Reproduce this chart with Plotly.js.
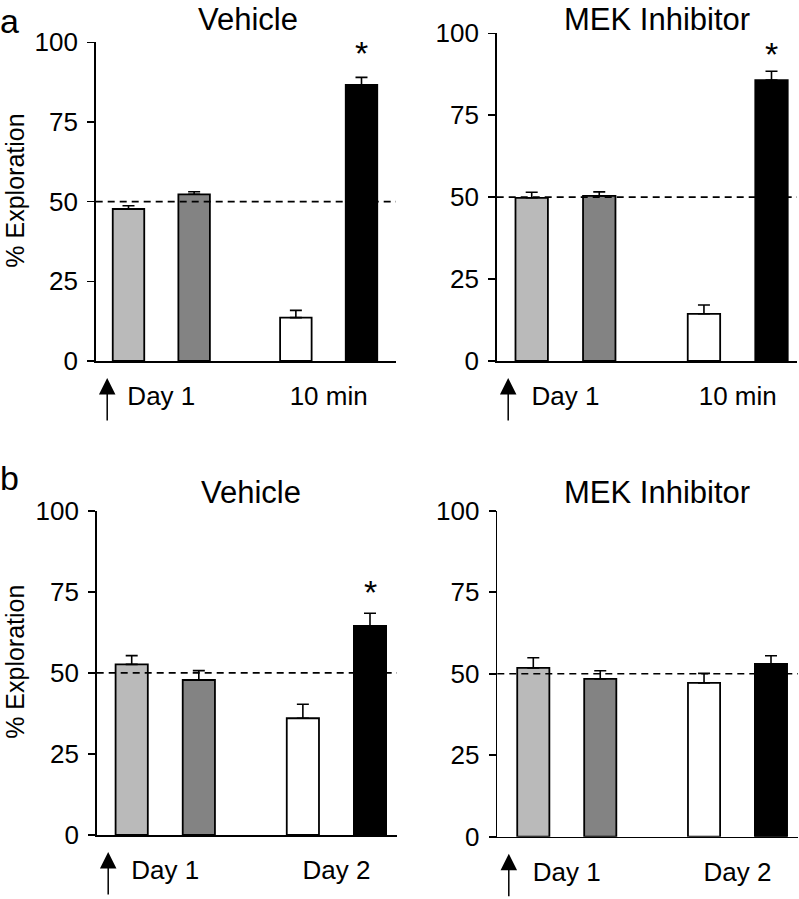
<!DOCTYPE html>
<html>
<head>
<meta charset="utf-8">
<script src="https://cdn.plot.ly/plotly-3.0.1.min.js"></script>
<style>
  html, body { margin: 0; padding: 0; background: #fff; }
  #plot { width: 799px; height: 899px; }
</style>
</head>
<body>
<div id="plot"></div>
<script>
// values (% exploration, mean and +SEM)
var barPos = [1, 2, 3.55, 4.55];
var groupPos = [1.5, 4.05];
var groupsA = ["Day 1", "10 min"];
var groupsB = ["Day 1", "Day 2"];

var aVehicle = [47.7, 52.3, 13.6, 86.6];
var aVehicleErr = [1.0, 0.8, 2.3, 2.4];
var aMek = [49.8, 50.4, 14.4, 85.7];
var aMekErr = [1.7, 1.2, 2.7, 2.7];
var bVehicle = [52.6, 47.8, 36.0, 64.5];
var bVehicleErr = [2.7, 2.9, 4.3, 3.9];
var bMek = [51.8, 48.4, 47.2, 53.0];
var bMekErr = [3.1, 2.5, 2.9, 2.5];

var yTicks = [0, 25, 50, 75, 100];
var chance = 50;

var barColors = ["#bababa", "#838383", "#ffffff", "#000000"];
var W = 799, H = 899;
var FONT = "Liberation Sans, Arial, Helvetica, sans-serif";

// panel frames in pixels: y axis x, first/last bar centre, right end, y of 0 and 100
var panels = [
  {vals: aVehicle, err: aVehicleErr, groups: groupsA, title: "Vehicle", star: 24,
   ax: 95.7, c1: 128.5, c4: 361.5, right: 396, y0: 361, y100: 42.3, tx: 248, ty: 20},
  {vals: aMek, err: aMekErr, groups: groupsA, title: "MEK Inhibitor", star: 17,
   ax: 496.7, c1: 531.7, c4: 771.5, right: 797, y0: 361, y100: 33.3, tx: 656.7, ty: 19},
  {vals: bVehicle, err: bVehicleErr, groups: groupsB, title: "Vehicle", star: 21,
   ax: 96.7, c1: 131.7, c4: 370, right: 397, y0: 835, y100: 510.7, tx: 250.7, ty: 493},
  {vals: bMek, err: bMekErr, groups: groupsB, title: "MEK Inhibitor", star: 0,
   ax: 497.3, c1: 533.3, c4: 771, right: 798, y0: 836.7, y100: 510.7, tx: 656.7, ty: 493}
];

var data = [];
var layout = {
  width: W, height: H,
  margin: {l: 0, r: 0, t: 0, b: 0},
  paper_bgcolor: "#fff", plot_bgcolor: "rgba(0,0,0,0)",
  showlegend: false,
  font: {family: FONT, color: "#000"},
  bargap: 0,
  annotations: [],
  shapes: []
};

panels.forEach(function (p, i) {
  var n = i === 0 ? "" : String(i + 1);
  var unit = (p.c4 - p.c1) / (barPos[3] - barPos[0]);
  var xlo = barPos[0] - (p.c1 - p.ax) / unit;
  var xhi = barPos[0] + (p.right - p.c1) / unit;

  data.push({
    type: "bar",
    x: barPos,
    y: p.vals,
    width: 0.48,
    xaxis: "x" + n, yaxis: "y" + n,
    marker: {color: barColors, line: {color: "#000", width: 1.8}},
    error_y: {type: "data", symmetric: false, array: p.err,
              arrayminus: p.err.map(function () { return 0; }),
              color: "#000", thickness: 1.6, width: 6},
    hoverinfo: "skip"
  });

  layout["xaxis" + n] = {
    domain: [p.ax / W, p.right / W],
    range: [xlo, xhi],
    anchor: "y" + n,
    showline: true, linecolor: "#000", linewidth: 1.6,
    showgrid: false, zeroline: false,
    ticks: "",
    tickvals: groupPos, ticktext: p.groups,
    tickfont: {size: 26, family: FONT, color: "#000"},
    ticklabelstandoff: 11
  };
  layout["yaxis" + n] = {
    domain: [1 - p.y0 / H, 1 - p.y100 / H],
    range: [0, 100],
    anchor: "x" + n,
    showline: true, linecolor: "#000", linewidth: 1.6,
    showgrid: false, zeroline: false,
    ticks: "outside", ticklen: 7, tickwidth: 1.6, tickcolor: "#000",
    tickvals: yTicks,
    tickfont: {size: 26, family: FONT, color: "#000"},
    ticklabelstandoff: 4
  };

  // chance level
  layout.shapes.push({
    type: "line", xref: "x" + n + " domain", yref: "y" + n,
    x0: 0, x1: 1, y0: chance, y1: chance,
    line: {color: "#000", width: 1.6, dash: "7px,5px"}
  });

  // panel title
  layout.annotations.push({
    xref: "paper", yref: "paper", x: p.tx / W, y: 1 - p.ty / H,
    text: p.title, showarrow: false, xanchor: "center", yanchor: "middle",
    font: {size: 31, family: FONT, color: "#000"}
  });

  // training arrow under the first bar
  layout.annotations.push({
    xref: "paper", yref: "paper", x: (p.ax + 11.5) / W, y: 1 - (p.y0 + 17) / H,
    text: "", showarrow: true, ax: 0, ay: 44,
    arrowhead: 2, arrowsize: 2.2, arrowwidth: 1.5, arrowcolor: "#000"
  });

  if (p.star) {
    layout.annotations.push({
      xref: "x" + n, yref: "y" + n, x: barPos[3], y: p.vals[3] + p.err[3],
      text: "*", showarrow: false, xanchor: "center", yanchor: "middle",
      yshift: p.star,
      font: {size: 34, family: FONT, color: "#000"}
    });
  }

  if (i % 2 === 0) {
    layout.annotations.push({
      xref: "paper", yref: "paper", x: 15 / W, y: 1 - (p.y0 + p.y100) / 2 / H + 11 / H,
      text: "% Exploration", showarrow: false, textangle: -90,
      xanchor: "center", yanchor: "middle",
      font: {size: 25, family: FONT, color: "#000"}
    });
  }
});

// panel letters
layout.annotations.push({
  xref: "paper", yref: "paper", x: 9 / W, y: 1, text: "a",
  showarrow: false, xanchor: "center", yanchor: "top",
  font: {size: 34, family: FONT, color: "#000"}
});
layout.annotations.push({
  xref: "paper", yref: "paper", x: 9 / W, y: 1 - 478 / H, text: "b",
  showarrow: false, xanchor: "center", yanchor: "middle",
  font: {size: 34, family: FONT, color: "#000"}
});

Plotly.newPlot("plot", data, layout, {staticPlot: true});
</script>
</body>
</html>
